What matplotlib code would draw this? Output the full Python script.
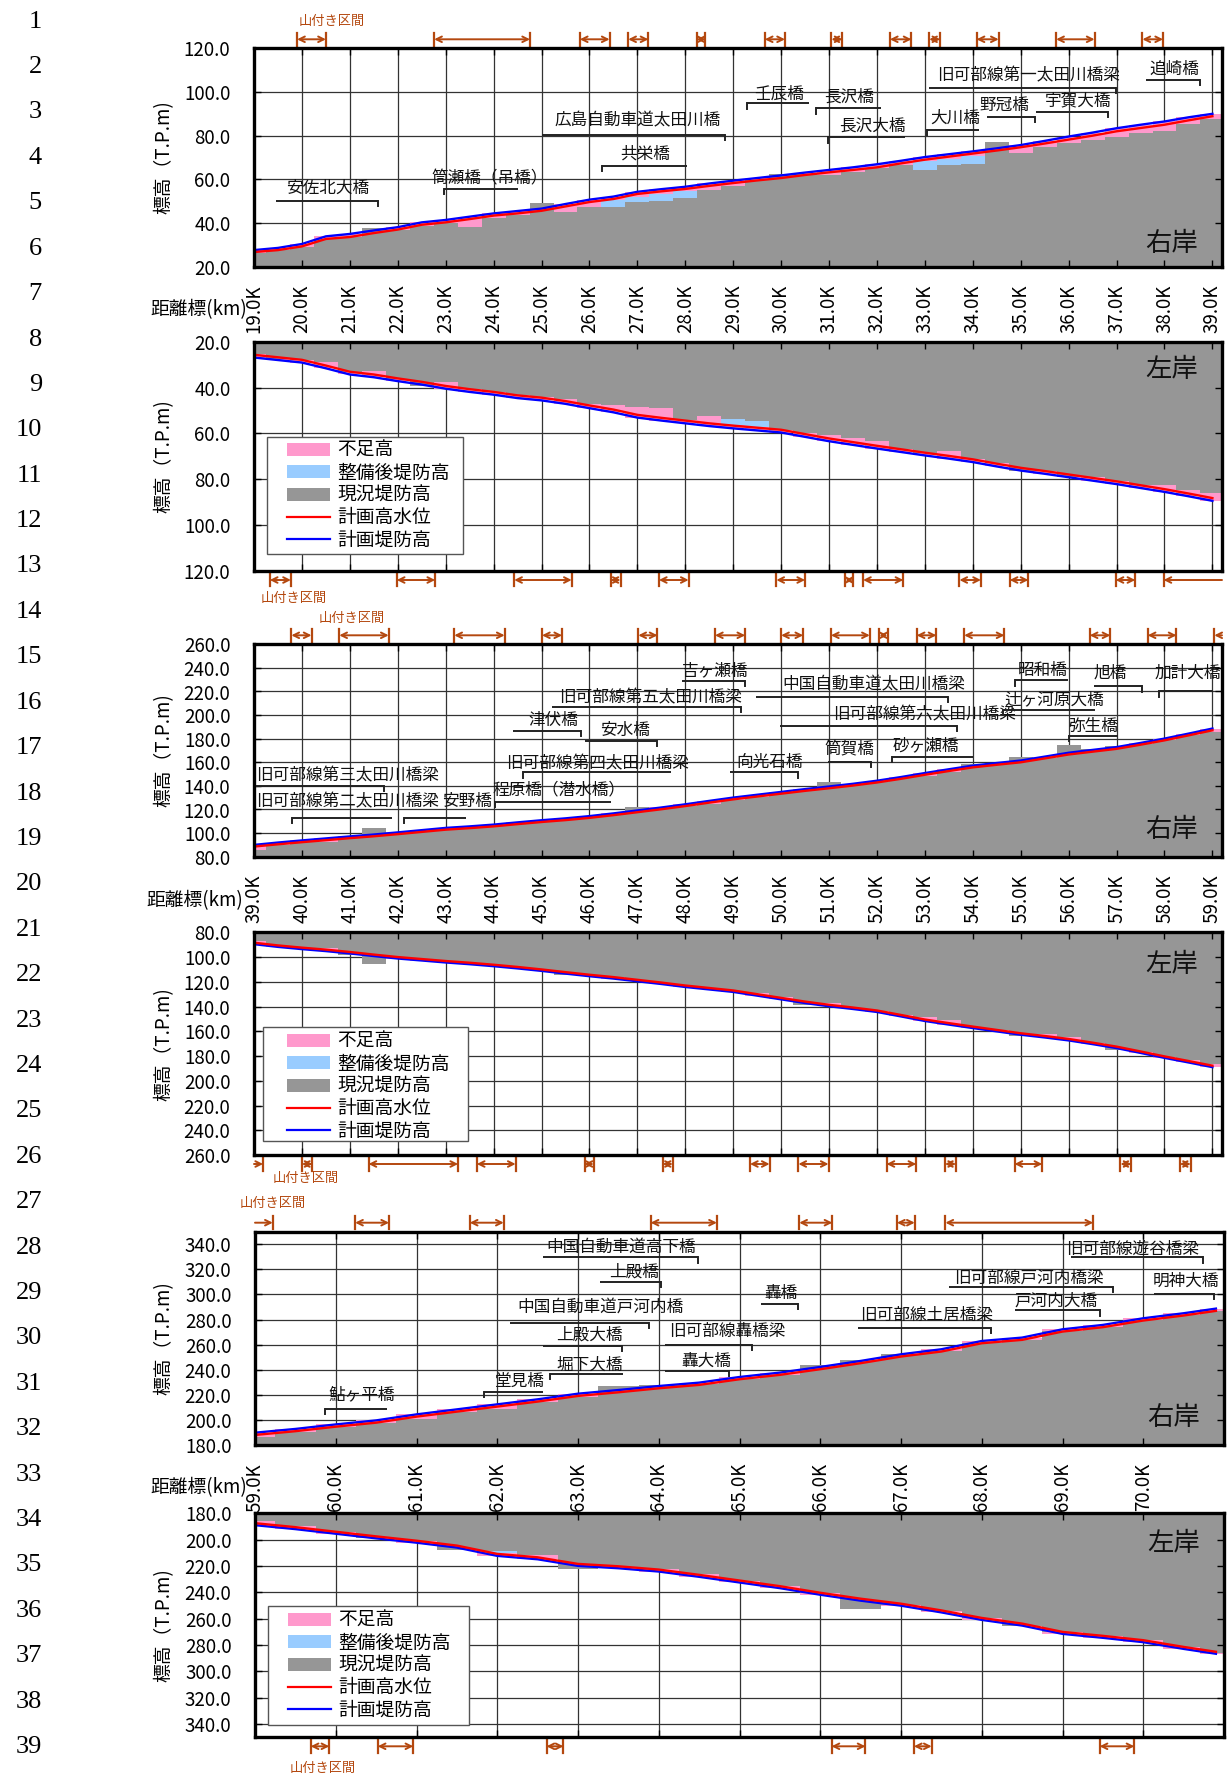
import numpy as np
import matplotlib
matplotlib.use("Agg")
import matplotlib.pyplot as plt
from matplotlib.patches import Patch, Rectangle
from matplotlib.lines import Line2D
from matplotlib.transforms import blended_transform_factory

plt.rcParams["font.family"] = ["Noto Sans CJK JP", "DejaVu Sans"]

# ---------------- data ----------------
# stations every 0.5 km
KM_A = np.arange(19.0, 39.01, 0.5)
KM_B = np.arange(39.0, 59.01, 0.5)
KM_C = np.r_[np.arange(59.0, 70.51, 0.5), 70.9]

# distance markers shown on the x axes
XT_A = np.arange(19, 40)
XT_B = np.arange(39, 60)
XT_C = np.arange(59, 71)

# right bank 19-39 km
HWL1 = [26.7, 27.6, 29.3, 32.7, 33.6, 35.4, 37.0, 39.2, 40.3, 41.8, 43.4, 44.4, 45.6, 47.6,
        49.6, 51.0, 53.3, 54.5, 55.6, 57.0, 58.3, 59.5, 60.6, 62.0, 63.2, 64.3, 65.5, 67.3,
        69.0, 70.4, 71.8, 73.2, 74.7, 76.4, 78.2, 80.0, 82.0, 83.5, 85.0, 87.0, 88.9]
PLAN1 = [27.6, 28.6, 30.4, 33.9, 35.0, 36.6, 38.1, 40.3, 41.4, 42.9, 44.4, 45.5, 46.6, 48.7,
         50.7, 52.1, 54.3, 55.5, 56.6, 58.1, 59.4, 60.6, 61.8, 63.1, 64.3, 65.5, 66.9, 68.5,
         70.2, 71.5, 72.8, 74.2, 75.7, 77.6, 79.6, 81.4, 83.4, 85.0, 86.5, 88.4, 90.0]
EXIST1 = [26.5, 27.5, 29.0, 32.5, 33.5, 37.5, 36.8, 38.8, 40.0, 38.0, 42.5, 43.5, 49.0, 45.0,
          47.5, 47.5, 49.5, 50.0, 51.5, 55.0, 57.0, 59.8, 62.6, 62.6, 62.0, 63.5, 65.0, 66.5,
          64.5, 66.5, 67.0, 77.0, 72.0, 75.0, 76.5, 78.0, 79.5, 81.0, 82.0, 85.5, 87.5]
IMPR1 = [np.nan] * 15 + [50.5, 52.0, 53.5, 54.8] + [np.nan] * 9 + [68.5, 69.5, 70.5] + [np.nan] * 10

# left bank 19-39 km
HWL2 = [25.7, 26.8, 27.9, 30.4, 33.1, 34.3, 36.0, 37.5, 39.3, 40.7, 41.9, 43.4, 44.4, 45.9,
        47.8, 49.6, 51.9, 53.2, 54.4, 55.6, 56.6, 57.5, 58.4, 60.3, 62.2, 63.8, 65.4, 66.9,
        68.4, 69.8, 71.3, 73.2, 75.0, 76.4, 77.9, 79.4, 80.9, 82.6, 84.3, 86.2, 88.2]
PLAN2 = [26.9, 28.0, 29.1, 31.6, 34.3, 35.5, 37.2, 38.7, 40.5, 41.9, 43.1, 44.6, 45.6, 47.1,
         49.0, 50.8, 53.1, 54.4, 55.6, 56.8, 57.8, 58.7, 59.6, 61.5, 63.4, 65.0, 66.6, 68.1,
         69.6, 71.0, 72.5, 74.4, 76.2, 77.6, 79.1, 80.6, 82.1, 83.8, 85.5, 87.4, 89.4]
EXIST2 = [25.5, 27.5, 27.8, 29.0, 33.0, 32.8, 36.2, 39.5, 37.5, 40.8, 41.8, 43.2, 44.3, 44.8,
          47.0, 47.8, 48.5, 49.0, 54.2, 52.5, 53.5, 54.5, 58.3, 60.0, 60.5, 61.8, 63.5, 66.6,
          68.4, 67.8, 71.2, 73.1, 76.5, 76.2, 79.0, 78.8, 80.8, 82.5, 82.6, 84.5, 86.2]
IMPR2 = [np.nan] * 20 + [56.2, 57.2] + [np.nan] * 19

# right bank 39-59 km
HWL3 = [88.6, 90.5, 92.3, 94.0, 95.7, 97.3, 99.1, 101.0, 102.9, 104.2, 105.7, 107.6, 109.4,
        111.0, 112.9, 115.2, 117.7, 120.2, 122.9, 125.8, 128.6, 131.0, 133.4, 135.8, 138.0,
        140.3, 142.9, 146.0, 149.4, 152.6, 155.7, 157.9, 160.0, 163.3, 166.6, 169.0, 171.4,
        174.9, 178.6, 182.8, 187.1]
PLAN3 = [90.0, 92.0, 93.8, 95.5, 97.2, 98.8, 100.6, 102.5, 104.4, 105.7, 107.2, 109.1, 110.9,
         112.5, 114.4, 116.7, 119.2, 121.7, 124.4, 127.3, 130.1, 132.5, 134.9, 137.3, 139.5,
         141.8, 144.4, 147.5, 150.9, 154.1, 157.2, 159.4, 161.5, 164.8, 168.1, 170.5, 172.9,
         176.4, 180.1, 184.3, 188.6]
EXIST3 = [86.0, 90.0, 92.5, 92.5, 97.0, 104.0, 99.5, 101.5, 103.2, 104.6, 106.0, 108.0, 109.8,
          111.4, 113.3, 115.6, 122.5, 120.6, 123.3, 125.0, 128.0, 130.5, 133.8, 136.2, 143.5,
          140.7, 143.3, 146.4, 148.0, 152.0, 158.5, 158.3, 164.5, 163.7, 174.5, 171.0, 174.0,
          175.3, 179.0, 183.2, 185.5]

# left bank 39-59 km
HWL4 = [88.4, 90.6, 92.4, 94.0, 95.9, 98.0, 100.0, 101.6, 103.2, 104.6, 106.2, 108.0, 110.0,
        112.2, 114.3, 116.2, 118.4, 120.6, 123.0, 125.0, 127.0, 130.0, 133.0, 136.0, 138.6,
        140.8, 143.2, 146.8, 150.5, 153.4, 156.2, 158.9, 161.6, 163.8, 166.2, 169.2, 172.4,
        176.3, 180.3, 184.0, 187.8]
PLAN4 = [89.6, 91.8, 93.6, 95.2, 97.1, 99.2, 101.2, 102.8, 104.4, 105.8, 107.4, 109.2, 111.2,
         113.4, 115.5, 117.4, 119.6, 121.8, 124.2, 126.2, 128.2, 131.2, 134.2, 137.2, 139.8,
         142.0, 144.4, 148.0, 151.7, 154.6, 157.4, 160.1, 162.8, 165.0, 167.4, 170.4, 173.6,
         177.5, 181.5, 185.2, 189.0]
EXIST4 = [87.0, 90.8, 93.0, 92.5, 98.0, 106.0, 100.5, 102.0, 103.5, 105.0, 106.5, 108.3, 110.3,
          114.5, 114.6, 116.5, 118.7, 120.9, 123.3, 125.3, 127.3, 129.0, 132.5, 138.5, 137.5,
          141.0, 143.5, 147.0, 148.5, 151.0, 156.5, 159.2, 164.0, 162.5, 164.5, 169.5, 175.5,
          176.6, 180.5, 183.0, 186.5]

# right bank 59-71 km
HWL5 = [188.0, 191.0, 194.6, 197.8, 202.6, 206.6, 210.6, 214.6, 219.1, 222.0, 225.2, 227.9,
        232.4, 235.9, 240.4, 245.2, 250.5, 254.5, 261.1, 263.8, 270.4, 273.9, 279.2, 283.2, 286.9]
PLAN5 = [189.8, 192.8, 196.4, 199.6, 204.4, 208.4, 212.4, 216.4, 220.9, 223.8, 227.0, 229.7,
         234.2, 237.7, 242.2, 247.0, 252.3, 256.3, 262.9, 265.6, 272.2, 275.7, 281.0, 285.0, 288.7]
EXIST5 = [186.5, 190.0, 194.5, 197.5, 201.0, 206.5, 209.0, 214.5, 218.0, 226.8, 228.0, 228.5,
          232.5, 236.0, 244.0, 247.5, 252.8, 255.0, 261.5, 264.0, 270.5, 274.0, 279.5, 283.5, 286.5]

# left bank 59-71 km
HWL6 = [187.5, 190.5, 194.0, 197.5, 200.8, 204.5, 210.8, 213.4, 218.4, 220.2, 222.7, 226.7,
        231.0, 235.3, 240.3, 244.8, 248.6, 253.7, 259.4, 263.7, 270.0, 273.0, 276.3, 281.4, 285.1]
PLAN6 = [189.0, 192.0, 195.5, 199.0, 202.3, 206.0, 212.3, 214.9, 219.9, 221.7, 224.2, 228.2,
         232.5, 236.8, 241.8, 246.3, 250.1, 255.2, 260.9, 265.2, 271.5, 274.5, 277.8, 282.9, 286.6]
EXIST6 = [186.0, 189.5, 194.0, 199.0, 200.8, 208.0, 208.5, 211.5, 222.5, 220.5, 222.5, 226.0,
          231.0, 235.0, 240.5, 253.0, 249.5, 254.5, 259.5, 265.5, 270.0, 273.0, 276.5, 281.5, 286.0]
IMPR6 = [np.nan] * 6 + [210.5] + [np.nan] * 18

# mountain-side sections (山付き区間), km spans; None = runs off the axis
MT1 = [(19.9, 20.5), (22.76, 24.76), (25.8, 26.42), (26.81, 27.23), (28.24, 28.42), (29.66, 30.08),
       (31.05, 31.28), (32.27, 32.72), (33.09, 33.32), (34.08, 34.54), (35.74, 36.54), (37.54, 37.97)]
MT2 = [(19.33, 19.77), (21.98, 22.78), (24.43, 25.63), (26.44, 26.65), (27.45, 28.07), (29.9, 30.5),
       (31.34, 31.5), (31.71, 32.55), (33.72, 34.17), (34.77, 35.16), (36.98, 37.39), (37.98, None)]
MT3 = [(39.78, 40.2), (40.78, 41.81), (43.18, 44.23), (45.01, 45.43), (47.02, 47.42), (48.62, 49.25),
       (50.0, 50.46), (51.04, 51.85), (52.05, 52.22), (52.83, 53.24), (53.82, 54.66), (56.44, 56.87),
       (57.65, 58.25), (59.04, None)]
MT4 = [(None, 39.19), (40.0, 40.22), (41.39, 43.26), (43.65, 44.46), (45.9, 46.09), (47.53, 47.74),
       (49.35, 49.76), (50.36, 50.99), (52.2, 52.82), (53.42, 53.65), (54.87, 55.45), (57.08, 57.31),
       (58.32, 58.55)]
MT5 = [(None, 59.22), (60.24, 60.66), (61.66, 62.08), (63.9, 64.72), (65.74, 66.15), (66.95, 67.17),
       (67.55, 69.38)]
MT6 = [(59.69, 59.92), (60.52, 60.96), (62.61, 62.82), (66.14, 66.56), (67.16, 67.38), (69.46, 69.89)]

# bridges: name, label x, label y, bar start, bar end, bar level, side of the drop
BR1 = [
    ("安佐北大橋", 20.53, 56.0, 19.46, 21.58, 50.2, "R"),
    ("筒瀬橋（吊橋）", 23.91, 60.3, 22.96, 24.51, 55.6, "L"),
    ("広島自動車道太田川橋", 27.01, 87.0, 25.02, 28.83, 80.5, "R"),
    ("共栄橋", 27.16, 71.6, 26.26, 28.04, 66.0, "L"),
    ("壬辰橋", 29.96, 99.2, 29.29, 30.59, 94.8, "L"),
    ("長沢橋", 31.42, 97.7, 30.72, 32.09, 92.5, "L"),
    ("長沢大橋", 31.90, 84.6, 30.97, 32.58, 79.2, "L"),
    ("大川橋", 33.64, 88.1, 33.05, 34.13, 82.7, "L"),
    ("野冠橋", 34.66, 93.7, 34.29, 35.30, 88.5, "R"),
    ("宇賀大橋", 36.19, 95.7, 35.32, 36.82, 90.8, "R"),
    ("旧可部線第一太田川橋梁", 35.16, 107.5, 33.08, 36.98, 101.8, "R"),
    ("追崎橋", 38.21, 110.2, 37.62, 38.75, 105.6, "R"),
]
BR3 = [
    ("旧可部線第三太田川橋梁", 40.96, 148.6, 39.04, 41.72, 140.0, "R"),
    ("旧可部線第二太田川橋梁", 40.96, 126.6, 39.79, 41.87, 112.9, "L"),
    ("安野橋", 43.44, 126.6, 42.13, 43.42, 112.9, "L"),
    ("程原橋（潜水橋）", 45.37, 136.3, 44.02, 46.45, 126.6, "L"),
    ("旧可部線第四太田川橋梁", 46.17, 159.1, 44.61, 47.71, 151.4, "L"),
    ("津伏橋", 45.24, 195.7, 44.40, 45.83, 186.6, "R"),
    ("安水橋", 46.74, 187.1, 45.90, 47.41, 178.0, "R"),
    ("旧可部線第五太田川橋梁", 47.28, 214.3, 45.21, 49.16, 207.1, "R"),
    ("吉ヶ瀬橋", 48.63, 237.7, 47.94, 49.24, 229.1, "R"),
    ("中国自動車道太田川橋梁", 51.93, 225.7, 49.47, 53.49, 215.7, "R"),
    ("旧可部線第六太田川橋梁", 53.00, 200.0, 49.98, 53.68, 190.9, "R"),
    ("向光石橋", 49.77, 160.0, 48.93, 50.36, 151.4, "R"),
    ("筒賀橋", 51.42, 170.6, 50.97, 51.88, 160.0, "R"),
    ("砂ヶ瀬橋", 53.02, 173.7, 52.32, 54.01, 164.9, "L"),
    ("昭和橋", 55.45, 238.0, 54.89, 55.99, 229.4, "L"),
    ("辻ヶ河原大橋", 55.69, 213.4, 54.63, 56.54, 204.3, "L"),
    ("旭橋", 56.87, 235.7, 56.52, 57.54, 224.3, "R"),
    ("加計大橋", 58.48, 235.7, 57.89, 59.02, 220.0, "L"),
    ("弥生橋", 56.51, 190.6, 56.00, 57.02, 182.3, "L"),
]
BR5 = [
    ("鮎ヶ平橋", 60.32, 220.4, 59.87, 60.64, 208.7, "L"),
    ("堂見橋", 62.28, 231.0, 61.83, 62.57, 222.6, "L"),
    ("堀下大橋", 63.15, 243.8, 62.65, 63.56, 236.6, "L"),
    ("上殿大橋", 63.14, 267.8, 62.57, 63.54, 259.3, "R"),
    ("中国自動車道戸河内橋", 63.28, 289.8, 62.16, 63.88, 277.6, "R"),
    ("中国自動車道高下橋", 63.53, 337.7, 62.57, 64.48, 329.5, "R"),
    ("上殿橋", 63.70, 317.5, 63.27, 64.03, 310.3, "R"),
    ("旧可部線轟橋梁", 64.85, 270.4, 64.08, 65.15, 259.8, "R"),
    ("轟大橋", 64.59, 246.5, 64.08, 64.87, 239.3, "R"),
    ("轟橋", 65.51, 301.0, 65.27, 65.73, 292.2, "R"),
    ("旧可部線土居橋梁", 67.32, 282.9, 66.47, 68.12, 273.6, "R"),
    ("旧可部線戸河内橋梁", 68.58, 313.0, 67.60, 69.62, 305.8, "R"),
    ("戸河内大橋", 68.92, 294.4, 68.41, 69.47, 287.2, "R"),
    ("旧可部線遊谷橋梁", 69.87, 336.1, 69.11, 70.74, 329.5, "R"),
    ("明神大橋", 70.53, 310.3, 70.13, 70.87, 300.5, "R"),
]

LEGEND_LABELS = ["不足高", "整備後堤防高", "現況堤防高", "計画高水位", "計画堤防高"]

# ---------------- style ----------------
GRAY = "#969696"
PINK = "#ff99cc"
LBLUE = "#99ccff"
RED = "#ff0000"
BLUE = "#0000ff"
BROWN = "#b4480f"

W, H = 1231, 1776
fig = plt.figure(figsize=(W / 100, H / 100), dpi=100)


def add_axes_px(left, top, right, bottom):
    return fig.add_axes([left / W, 1 - bottom / H, (right - left) / W, (bottom - top) / H])


def draw_profile(ax, km, hwl, plan, exist, impr, xlim, ylim, xt, yticks, invert, show_x):
    km = np.asarray(km)
    hwl, plan, exist = np.asarray(hwl), np.asarray(plan), np.asarray(exist)
    ax.set_xlim(xlim)
    ax.set_ylim(ylim)
    edges = np.r_[km[0], (km[:-1] + km[1:]) / 2, xlim[1]]
    ax.stairs(exist, edges, baseline=ylim[0], fill=True, color=GRAY, lw=0, zorder=1)
    ax.stairs(plan, edges, baseline=np.minimum(exist, plan), fill=True, color=PINK, lw=0, zorder=1.05)
    if impr is not None:
        impr = np.asarray(impr, dtype=float)
        top = np.where(np.isnan(impr), exist, impr)
        ax.stairs(top, edges, baseline=exist, fill=True, color=LBLUE, lw=0, zorder=1.1)
    ax.plot(km, plan, color=BLUE, lw=1.7, zorder=2.1)
    ax.plot(km, hwl, color=RED, lw=1.7, zorder=2.2)

    for x in xt:
        ax.axvline(x, color="#333333", lw=0.9, zorder=0.5)
    for y in yticks:
        ax.axhline(y, color="#333333", lw=0.9, zorder=0.5)
    ax.set_xticks(xt)
    ax.set_xticklabels([f"{x:.1f}K" for x in xt], rotation=90)
    ax.set_yticks(yticks)
    ax.set_yticklabels([f"{y:.1f}" for y in yticks])
    ax.tick_params(direction="in", length=5, width=1, top=True, right=True, labelsize=13.5)
    ax.tick_params(axis="x", pad=13, labelbottom=show_x)
    ax.tick_params(axis="y", pad=17)
    if invert:
        ax.invert_yaxis()
    for s in ax.spines.values():
        s.set_linewidth(2.4)


def draw_bridges(ax, bridges):
    y0, y1 = ax.get_ylim()
    drop = 0.024 * abs(y1 - y0)
    for name, tx, ty, x0, x1, ly, side in bridges:
        ax.plot([x0, x1], [ly, ly], color="#222222", lw=1.4, zorder=3, solid_capstyle="butt")
        xe = x1 if side == "R" else x0
        ax.plot([xe, xe], [ly, ly - drop], color="#222222", lw=1.4, zorder=3)
        ax.text(tx, ty, name, ha="center", va="center", fontsize=12, color="#111111", zorder=3)


def draw_mountain(ax, spans, above, h_px):
    tr = blended_transform_factory(ax.transData, ax.transAxes)
    xmin, xmax = ax.get_xlim()
    off = 9.0 / h_px
    half = 6.5 / h_px
    y = 1 + off if above else -off
    for a, b in spans:
        x0 = xmin if a is None else a
        x1 = xmax if b is None else b
        if a is None:
            style = "->"
        elif b is None:
            style = "<-"
        else:
            style = "<->"
        ax.annotate("", xy=(x1, y), xytext=(x0, y), xycoords=tr, textcoords=tr,
                    arrowprops=dict(arrowstyle=style, color=BROWN, lw=1.4,
                                    shrinkA=0, shrinkB=0, mutation_scale=10),
                    annotation_clip=False)
        for xb in (a, b):
            if xb is not None:
                ax.plot([xb, xb], [y - half, y + half], transform=tr, color=BROWN,
                        lw=1.6, clip_on=False)


def add_legend(frame, anchor):
    # white box with a grey rim, legend entries placed inside it
    x0, y0, x1, y1 = frame
    fig.add_artist(Rectangle((x0 / W, 1 - y1 / H), (x1 - x0) / W, (y1 - y0) / H,
                             transform=fig.transFigure, facecolor="white",
                             edgecolor="#555555", lw=1.0, zorder=4))
    handles = [Patch(facecolor=PINK, edgecolor="none"),
               Patch(facecolor=LBLUE, edgecolor="none"),
               Patch(facecolor=GRAY, edgecolor="none"),
               Line2D([], [], color=RED, lw=1.6),
               Line2D([], [], color=BLUE, lw=1.6)]
    leg = fig.legend(handles, LEGEND_LABELS, loc="upper left",
                     bbox_to_anchor=(anchor[0] / W, 1 - anchor[1] / H),
                     bbox_transform=fig.transFigure, frameon=False, borderpad=0,
                     borderaxespad=0, fontsize=13.5, handlelength=2.3, handleheight=0.68,
                     handletextpad=0.4, labelspacing=0.075)
    leg.set_zorder(5)


def bank_label(ax, text, yfrac):
    ax.text(0.975, yfrac, text, transform=ax.transAxes, ha="right", va="center",
            fontsize=19, color="#111111", zorder=4)


# ---------------- panels ----------------
yt_a = np.arange(20, 121, 20)
yt_b = np.arange(80, 261, 20)
yt_c = np.arange(180, 341, 20)

panels = [
    # rect (px), km, hwl, plan, exist, impr, xlim, ylim, xticks, yticks, invert, show_x
    ((254, 48.3, 1222, 266.7), KM_A, HWL1, PLAN1, EXIST1, IMPR1, (19.0, 39.2), (20, 120), XT_A, yt_a, False, True),
    ((254, 341.7, 1222, 571.0), KM_A, HWL2, PLAN2, EXIST2, IMPR2, (19.0, 39.2), (20, 120), XT_A, yt_a, True, False),
    ((254, 644.3, 1222, 856.7), KM_B, HWL3, PLAN3, EXIST3, None, (39.0, 59.2), (80, 260), XT_B, yt_b, False, True),
    ((254, 932.3, 1222, 1155.0), KM_B, HWL4, PLAN4, EXIST4, None, (39.0, 59.2), (80, 260), XT_B, yt_b, True, False),
    ((255, 1231.7, 1224, 1445.0), KM_C, HWL5, PLAN5, EXIST5, None, (59.0, 71.0), (180, 350), XT_C, yt_c, False, True),
    ((255, 1513.3, 1224, 1737.3), KM_C, HWL6, PLAN6, EXIST6, IMPR6, (59.0, 71.0), (180, 350), XT_C, yt_c, True, False),
]
mountains = [MT1, MT2, MT3, MT4, MT5, MT6]
bridges = [BR1, None, BR3, None, BR5, None]
bank_y = [0.105, 0.877, 0.127, 0.857, 0.13, 0.866]
legends = [None,
           ((267, 437, 463, 554), (287, 440)),
           None,
           ((263, 1027, 468, 1141), (287, 1031)),
           None,
           ((268, 1606, 468.5, 1725), (288, 1610))]

for i, p in enumerate(panels):
    rect = p[0]
    ax = add_axes_px(*rect)
    draw_profile(ax, *p[1:])
    h_px = rect[3] - rect[1]
    right_bank = not p[10]
    draw_mountain(ax, mountains[i], above=right_bank, h_px=h_px)
    if bridges[i]:
        draw_bridges(ax, bridges[i])
    bank_label(ax, "右岸" if right_bank else "左岸", bank_y[i])
    if legends[i]:
        add_legend(*legends[i])
    # y axis title
    fig.text(164 / W, 1 - (rect[1] + rect[3]) / 2 / H, "標高（T.P.m)", rotation=90,
             ha="center", va="center", fontsize=13.5)

# distance label next to the km tick labels
for x, y in [(247, 310), (243, 901), (247, 1488)]:
    fig.text(x / W, 1 - y / H, "距離標(km)", ha="right", va="center", fontsize=13.5)

# 山付き区間 captions
for x, y in [(332, 21), (294, 598), (352, 618), (306, 1178), (273, 1203), (323, 1768)]:
    fig.text(x / W, 1 - y / H, "山付き区間", ha="center", va="center", fontsize=9.5,
             color=BROWN)

# line numbers at the left margin
for n in range(1, 40):
    fig.text(42 / W, 1 - (21.7 + (n - 1) * 45.4) / H, str(n), ha="right", va="center",
             fontsize=19, family="Liberation Serif")

fig.savefig("out.png", dpi=100)
